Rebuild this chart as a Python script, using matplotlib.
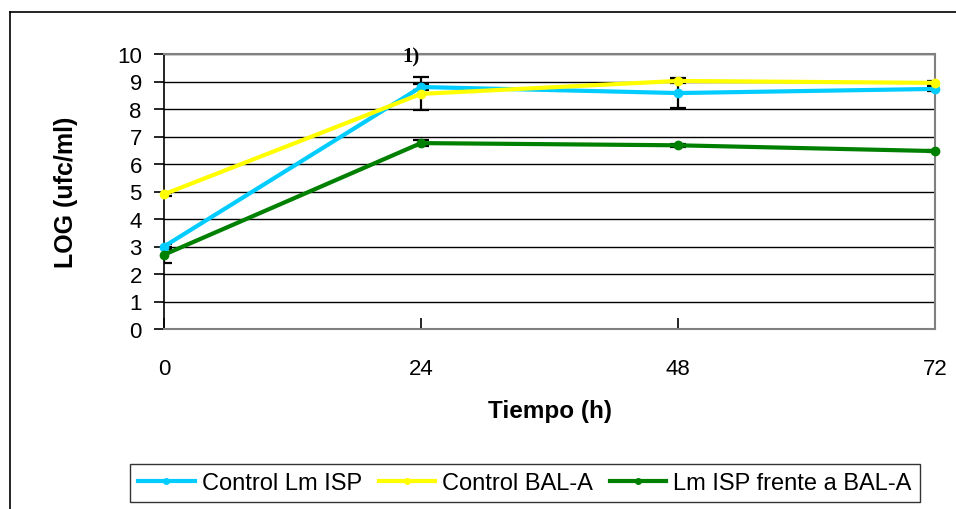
import matplotlib.pyplot as plt
from matplotlib.lines import Line2D

plt.rcParams['font.family'] = ['Liberation Sans', 'DejaVu Sans']

tiempo = [0, 24, 48, 72]

control_lm = [3.0, 8.8, 8.58, 8.73]
control_lm_err = [0.1, 0.12, 0.55, 0.08]

control_bal = [4.9, 8.55, 9.02, 8.95]
control_bal_err = [0.06, 0.6, 0.07, 0.08]

lm_frente_bal = [2.7, 6.76, 6.68, 6.47]
lm_frente_bal_err = [0.3, 0.1, 0.05, 0.05]

series = [
    ('Control Lm ISP', control_lm, control_lm_err, '#00CCFF'),
    ('Control BAL-A', control_bal, control_bal_err, '#FFFF00'),
    ('Lm ISP frente a BAL-A', lm_frente_bal, lm_frente_bal_err, '#008000'),
]

fig = plt.figure(figsize=(9.56, 5.10), dpi=100)
ax = fig.add_axes([164 / 956, 1 - 330 / 510, (935 - 164) / 956, (330 - 55) / 510])

handles = []
for nombre, y, err, color in series:
    ax.errorbar(tiempo, y, yerr=err, fmt='none', ecolor='black',
                elinewidth=1.6, capsize=6, capthick=1.6, zorder=3)
    ax.plot(tiempo, y, color=color, lw=3, marker='o', ms=6,
            clip_on=False, zorder=4)
    handles.append(Line2D([], [], color=color, lw=3, marker='o', ms=4))

ax.set_xlim(0, 72)
ax.set_ylim(0, 10)
ax.set_xticks(tiempo)
ax.set_yticks(range(0, 11))
ax.yaxis.grid(True, color='black', lw=1)
ax.set_axisbelow(True)

ax.spines['left'].set_color('black')
ax.spines['left'].set_linewidth(1.2)
for s in ['top', 'right', 'bottom']:
    ax.spines[s].set_color('#808080')
    ax.spines[s].set_linewidth(1.5)

ax.tick_params(axis='y', direction='out', length=7, width=1.2, pad=9,
               labelsize=16)
ax.tick_params(axis='x', direction='in', length=8, width=1.2, pad=21,
               labelsize=16, color='black')

ax.set_xlabel('Tiempo (h)', fontsize=17.5, fontweight='bold', labelpad=14)
ax.set_ylabel('LOG (ufc/ml)', fontsize=18, fontweight='bold', labelpad=28)

ax.text(23.1, 9.9, '1)', family=['Liberation Serif', 'DejaVu Serif'],
        fontweight='bold', fontsize=15, ha='center', va='center', zorder=5)

leg = fig.legend(handles, [s[0] for s in series], ncol=3,
                 loc='center', bbox_to_anchor=(525 / 956, 1 - 484 / 510),
                 fontsize=17, frameon=True, fancybox=False,
                 handlelength=2.4, handletextpad=0.3, columnspacing=0.7,
                 borderpad=0.35)
leg.get_frame().set_edgecolor('black')
leg.get_frame().set_linewidth(1.0)

# frame lines of the chart area (left and top edges)
fig.add_artist(Line2D([10 / 956, 10 / 956], [0, 1 - 13 / 510],
                      transform=fig.transFigure, color='black', lw=1.2))
fig.add_artist(Line2D([10 / 956, 1], [1 - 13 / 510, 1 - 13 / 510],
                      transform=fig.transFigure, color='black', lw=1.2))

fig.savefig('out.png', dpi=100)
